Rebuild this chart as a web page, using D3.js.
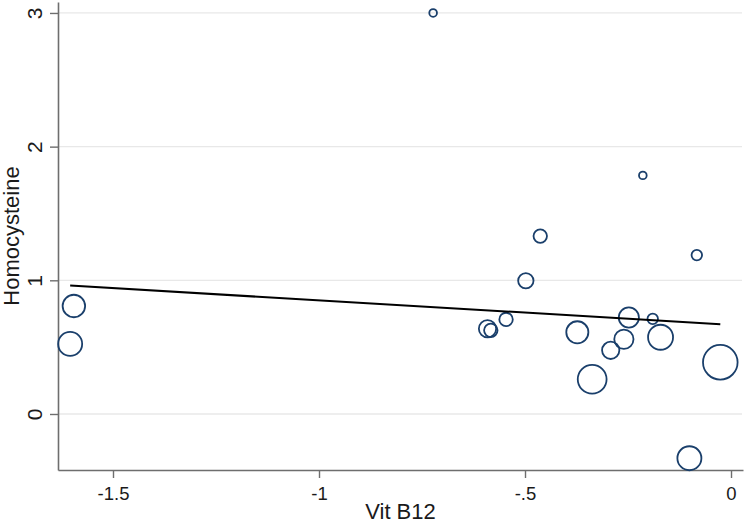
<!DOCTYPE html>
<html>
<head>
<meta charset="utf-8">
<script src="https://cdn.jsdelivr.net/npm/d3@7"></script>
<style>
  html, body { margin: 0; padding: 0; background: #fff; }
  svg { display: block; font-family: "Liberation Sans", Arial, sans-serif; }
</style>
</head>
<body>
<svg id="chart" width="750" height="527"></svg>
<script>
// ---- data ----
const vitB12 = [-0.723, -0.463, -0.498, -0.546, -0.591, -0.583, -0.373, -0.248, -0.260, -0.292,
                -0.337, -0.214, -0.083, -0.190, -0.171, -0.026, -0.101, -1.595, -1.604];
const homocysteine = [3.00, 1.331, 0.997, 0.707, 0.638, 0.626, 0.611, 0.722, 0.559, 0.476,
                      0.260, 1.785, 1.189, 0.711, 0.574, 0.387, -0.331, 0.808, 0.524];
const studyWeight = [16, 49, 64, 49, 81, 49, 132, 110, 100, 81,
                     225, 16, 30, 30, 169, 324, 156, 137, 156];
const fitIntercept = 0.667;
const fitSlope = -0.183;
const xTicks = [-1.5, -1, -0.5, 0];
const xTickLabels = ["-1.5", "-1", "-.5", "0"];
const yTicks = [0, 1, 2, 3];
const yTickLabels = ["0", "1", "2", "3"];
const xTitle = "Vit B12";
const yTitle = "Homocysteine";

// ---- layout ----
const svg = d3.select("#chart");
const pLeft = 58, pRight = 743, pTop = 2, pBottom = 470;

const x = d3.scaleLinear().domain([-1.6335, 0.0291]).range([pLeft, pRight]);
const y = d3.scaleLinear().domain([-0.419, 3.082]).range([pBottom, pTop]);
const r = d3.scaleSqrt().domain([0, d3.max(studyWeight)]).range([0, 17.3]);

const axisColor = "#6e6e6e";

// gridlines
svg.append("g").selectAll("line").data(yTicks).join("line")
  .attr("x1", pLeft).attr("x2", pRight - 1)
  .attr("y1", d => y(d)).attr("y2", d => y(d))
  .attr("stroke", "#e8e8e8").attr("stroke-width", 1.3);

// y axis
const yAxis = d3.axisLeft(y).tickValues(yTicks).tickFormat((d, i) => yTickLabels[i]).tickSize(8).tickSizeOuter(0);
const gy = svg.append("g").attr("transform", `translate(${pLeft},0)`).call(yAxis);
gy.select(".domain").attr("stroke", axisColor).attr("stroke-width", 1.6);
gy.selectAll(".tick line").attr("stroke", axisColor).attr("stroke-width", 1.4);
gy.selectAll(".tick text")
  .attr("x", 0).attr("y", 0).attr("dy", null)
  .attr("transform", "translate(-16,0) rotate(-90)")
  .attr("text-anchor", "middle")
  .attr("font-size", 21).attr("fill", "#1a1a1a")
  .style("font-family", "Liberation Sans, Arial, sans-serif");

// x axis
const xAxis = d3.axisBottom(x).tickValues(xTicks).tickFormat((d, i) => xTickLabels[i]).tickSize(8).tickSizeOuter(0);
const gx = svg.append("g").attr("transform", `translate(0,${pBottom})`).call(xAxis);
gx.select(".domain").attr("stroke", axisColor).attr("stroke-width", 1.6);
gx.selectAll(".tick line").attr("stroke", axisColor).attr("stroke-width", 1.4);
gx.selectAll(".tick text")
  .attr("y", 30).attr("dy", null)
  .attr("font-size", 18.5).attr("fill", "#1a1a1a")
  .style("font-family", "Liberation Sans, Arial, sans-serif");

// titles
svg.append("text")
  .attr("x", (pLeft + pRight) / 2).attr("y", 519)
  .attr("text-anchor", "middle").attr("font-size", 22).attr("fill", "#1a1a1a")
  .text(xTitle);
svg.append("text")
  .attr("transform", `translate(18.5,${(pTop + pBottom) / 2}) rotate(-90)`)
  .attr("text-anchor", "middle").attr("font-size", 22).attr("fill", "#1a1a1a")
  .text(yTitle);

// bubbles
const pts = vitB12.map((v, i) => ({ x: v, y: homocysteine[i], w: studyWeight[i] }));
svg.append("g").selectAll("circle").data(pts).join("circle")
  .attr("cx", d => x(d.x)).attr("cy", d => y(d.y)).attr("r", d => r(d.w))
  .attr("fill", "none").attr("stroke", "#1a3f6b").attr("stroke-width", 1.8);

// fitted line over the data range
const xExt = d3.extent(vitB12);
const fit = xExt.map(v => [v, fitIntercept + fitSlope * v]);
svg.append("path")
  .attr("d", d3.line().x(d => x(d[0])).y(d => y(d[1]))(fit))
  .attr("fill", "none").attr("stroke", "#000").attr("stroke-width", 2);
</script>
</body>
</html>
